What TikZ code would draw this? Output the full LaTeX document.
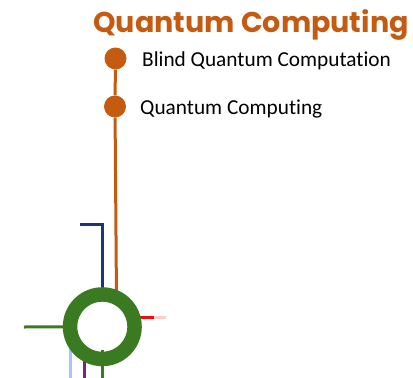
\documentclass[tikz,border=0pt]{standalone}
\usepackage{fontspec}
\setmainfont{Carlito}[Ligatures=CommonOff]
\newfontfamily\titlefont{Poppins}
\usetikzlibrary{backgrounds}
\definecolor{qorange}{RGB}{197,90,17}
\definecolor{qgreen}{RGB}{58,122,32}
\definecolor{qnavy}{RGB}{28,52,120}
\definecolor{qred}{RGB}{250,10,10}
\definecolor{qpink}{RGB}{255,205,205}
\definecolor{qlblue}{RGB}{170,195,250}
\definecolor{qpurple}{RGB}{112,40,130}
\tikzset{
  dotnode/.style={circle,fill=qorange,inner sep=0pt,minimum size=22pt},
  ringnode/.style={circle,inner sep=0pt,outer sep=0pt,minimum size=79pt},
  ringline/.style={draw=qgreen,line width=14.5pt},
  labelnode/.style={anchor=west,inner sep=0pt,font=\fontsize{21.3}{23}\selectfont},
  conn/.style={line width=3pt},
}
\begin{document}
\begin{tikzpicture}[x=1pt,y=-1pt]
\useasboundingbox (0,0) rectangle (413,378);
\node[anchor=base,inner sep=0pt,text=qorange,font=\titlefont\bfseries\fontsize{28.6}{31}\selectfont] (title) at (251,32) {Quantum Computing};
\node[dotnode] (d1) at (115.5,58.5) {};
\node[dotnode] (d2) at (115,106.5) {};
\node[labelnode] (l1) at (142,61) {Blind Quantum Computation};
\node[labelnode] (l2) at (140,109) {Quantum Computing};
\node[ringnode] (ring) at (102.3,326.7) {};
\coordinate (ot) at (116.5,300);
\coordinate (nv1) at (80,224);
\coordinate (nv2) at (102.7,224);
\coordinate (nv3) at (102.7,300);
\coordinate (gl) at (24,327);
\coordinate (r1) at (136,317.3);
\coordinate (r2) at (154,317.3);
\coordinate (p2) at (166,317.3);
\coordinate (lb1) at (70,340);
\coordinate (lb2) at (70,378);
\coordinate (pu1) at (84,350);
\coordinate (pu2) at (84,378);
\coordinate (gb1) at (102.7,350);
\coordinate (gb2) at (102.7,378);
\begin{scope}[on background layer]
\draw[conn,qorange] (d1) -- (d2) -- (ot);
\draw[conn,qnavy] (nv1) -- (nv2) -- (nv3);
\draw[conn,qgreen] (gl) -- (ring);
\draw[conn,qred] (r1) -- (r2);
\draw[conn,qpink] (r2) -- (p2);
\draw[conn,qlblue] (lb1) -- (lb2);
\draw[conn,qpurple] (pu1) -- (pu2);
\draw[conn,qgreen] (gb1) -- (gb2);
\end{scope}
\draw[ringline] (ring.center) circle[radius=32.25pt];
\end{tikzpicture}
\end{document}
